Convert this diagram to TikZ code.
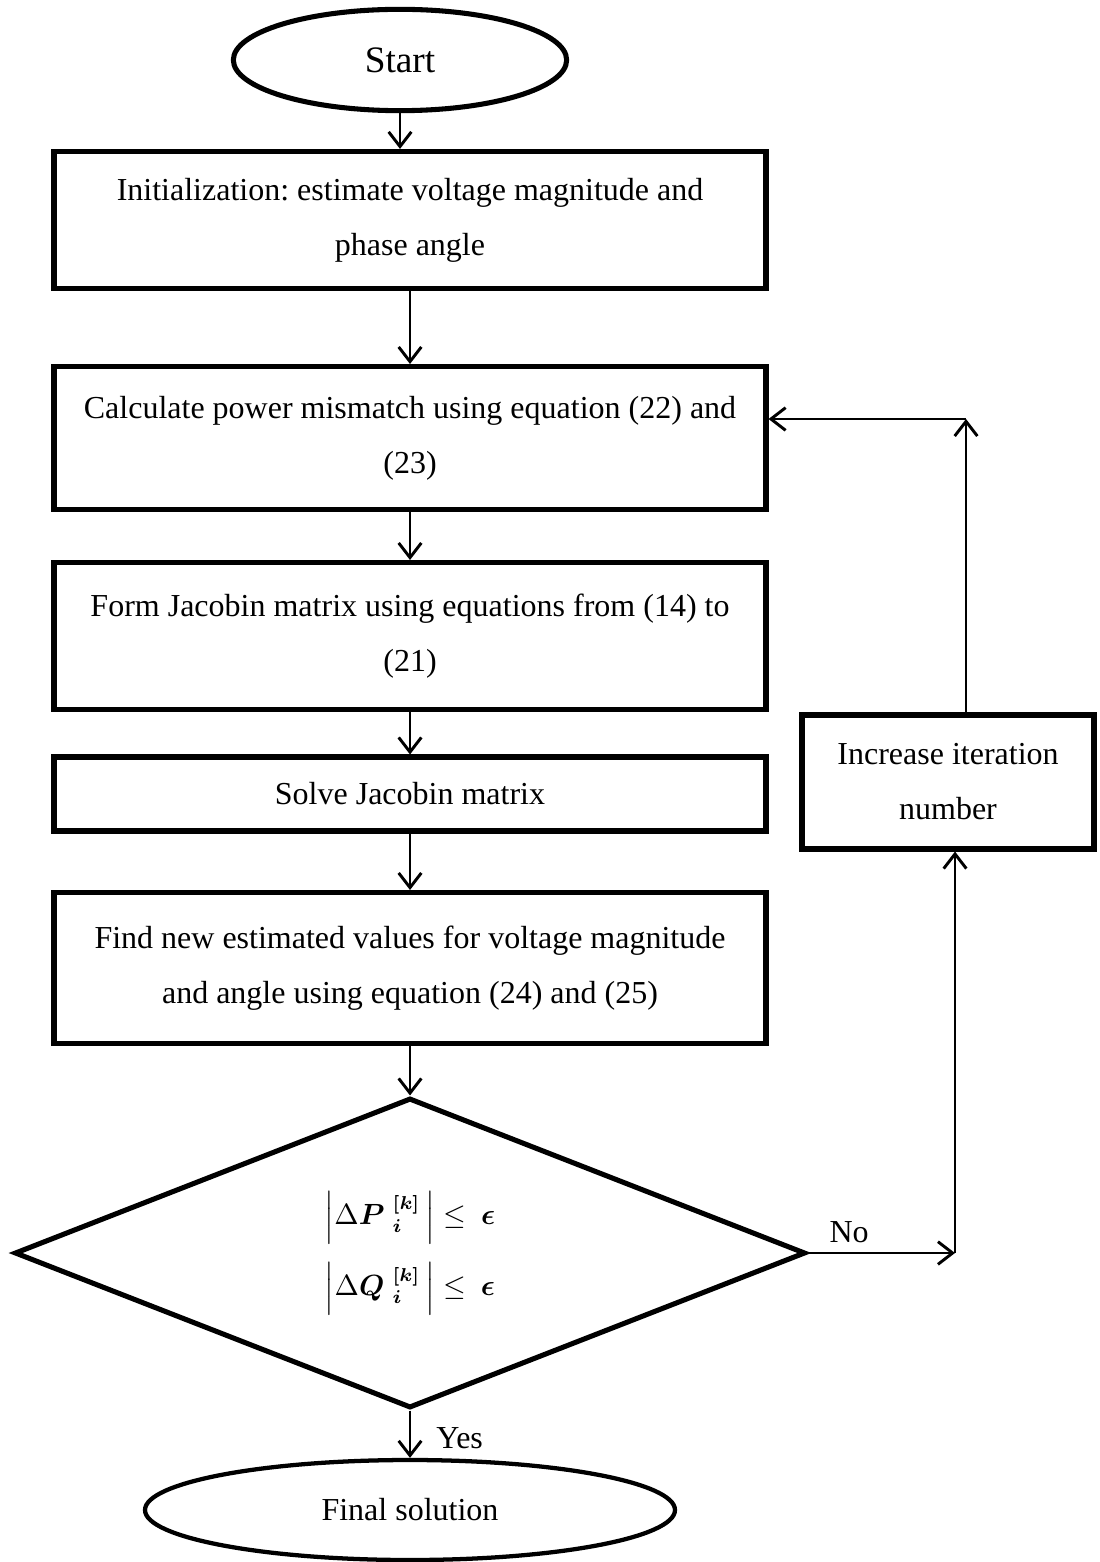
\documentclass[tikz,border=0pt]{standalone}
\usepackage{amsmath}
\usepackage{fontspec}
\setmainfont{Liberation Serif}
\usetikzlibrary{shapes.geometric,arrows.meta}
\frenchspacing

\tikzset{
    procbox/.style={draw, line width=1.9pt, minimum width=267pt, inner sep=0pt,
        align=center, font=\fontsize{12}{20.6}\selectfont},
    termnode/.style={draw, ellipse, line width=1.9pt, inner sep=0pt},
    decnode/.style={draw, diamond, shape aspect=2.55, line width=1.9pt, inner sep=0pt,
        align=center, minimum width=296.6pt, minimum height=116.25pt,
        font=\fontsize{10.5}{12}\selectfont},
    lbl/.style={font=\fontsize{12}{14}\selectfont},
    arr/.style={-{Straight Barb[length=5.5pt,width=8.5pt]}, line width=1.1pt},
}

\begin{document}
\begin{tikzpicture}[x=0.375pt,y=-0.375pt]
    \useasboundingbox (0,0) rectangle (1099,1562);
    % terminals
    \node[termnode, minimum width=125pt, minimum height=38pt,
          font=\fontsize{14}{16}\selectfont] (start) at (400,60) {Start};
    \node[termnode, line width=1.6pt, minimum width=198.75pt, minimum height=37.5pt,
          lbl] (final) at (410,1510) {Final solution};
    % main steps
    \node[procbox, minimum height=51.4pt] (init) at (410,220)
        {Initialization: estimate voltage magnitude and\\phase angle};
    \node[procbox, minimum height=53.6pt] (calc) at (410,438)
        {Calculate power mismatch using equation (22) and\\(23)};
    \node[procbox, minimum height=55.1pt] (jac) at (410,636)
        {Form Jacobin matrix using equations from (14) to\\(21)};
    \node[procbox, minimum height=27.75pt] (solve) at (410,794)
        {Solve Jacobin matrix};
    \node[procbox, minimum height=56.6pt] (upd) at (410,968)
        {Find new estimated values for voltage magnitude\\and angle using equation (24) and (25)};
    % convergence test
    \node[decnode] (dec) at (410,1253) {%
        $\left|\Delta\boldsymbol{P}\;{}_{\boldsymbol{i}}^{\boldsymbol{[k]}}\,\right|\le\ \boldsymbol{\epsilon}$\\[6pt]
        $\left|\Delta\boldsymbol{Q}\;{}_{\boldsymbol{i}}^{\boldsymbol{[k]}}\,\right|\le\ \boldsymbol{\epsilon}$};
    % iteration counter
    \node[procbox, minimum width=109.5pt, minimum height=50.25pt] (iter) at (948,782)
        {Increase iteration\\number};
    % downward flow
    \draw[arr] (start) -- (start |- init.north);
    \foreach \a/\b in {init/calc, calc/jac, jac/solve, solve/upd, upd/dec} {
        \draw[arr] (\a) -- (\b);
    }
    \draw[arr] (dec) -- node[lbl, pos=0.58, anchor=west, xshift=6pt] {Yes} (final);
    % loop back
    \coordinate (nobend) at (955,1253);
    \coordinate (upbend) at (966,419);
    \draw[arr] (dec.east) -- node[lbl, pos=0.28, above] {No} (nobend);
    \draw[arr] (nobend) -- (nobend |- iter.south);
    \draw[arr] (upbend |- iter.north) -- (upbend);
    \draw[arr] (upbend) -- (upbend -| calc.east);
\end{tikzpicture}
\end{document}
